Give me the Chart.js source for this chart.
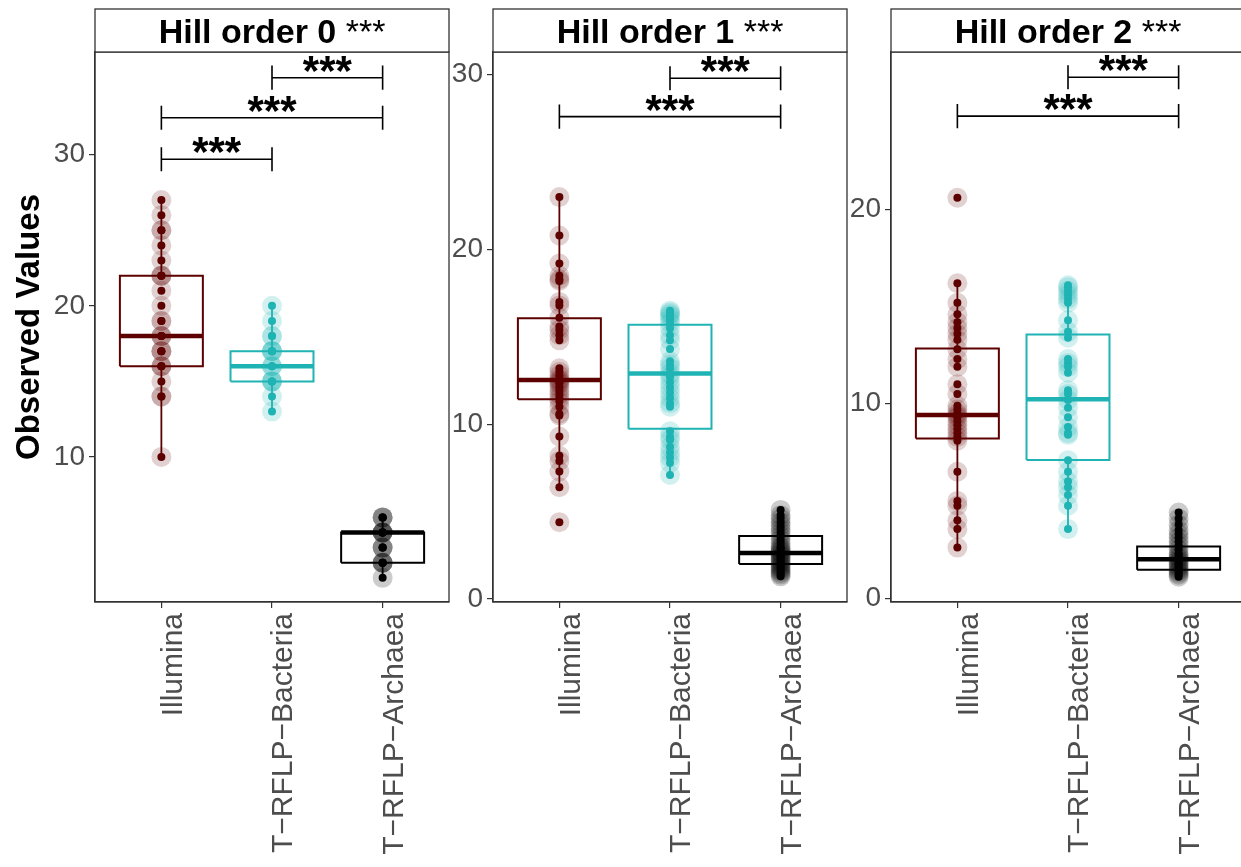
<!DOCTYPE html>
<html>
<head>
<meta charset="utf-8">
<script src="https://cdn.jsdelivr.net/npm/chart.js@4.4.1/dist/chart.umd.min.js"></script>
<style>
html, body { margin: 0; padding: 0; background: #fff; overflow: hidden; width: 1241px; height: 867px; }
.panel { position: absolute; top: 0; height: 867px; overflow: hidden; }
</style>
</head>
<body>
<div class="panel" style="left:0px;width:459px"><canvas id="c0" width="459" height="867"></canvas></div>
<div class="panel" style="left:449px;width:408px"><canvas id="c1" width="408" height="867"></canvas></div>
<div class="panel" style="left:847px;width:394px"><canvas id="c2" width="408" height="867"></canvas></div>
<script>
const groups = ["Illumina", "T\u2212RFLP\u2212Bacteria", "T\u2212RFLP\u2212Archaea"];
const groupColors = ["#5c0000", "#1fb3b3", "#000000"];
const haloColors = ["rgba(92,0,0,0.18)", "rgba(31,179,179,0.2)", "rgba(0,0,0,0.2)"];
const panelTitles = ["Hill order 0", "Hill order 1", "Hill order 2"];
const panelStars = "***";
const yTitle = "Observed Values";

// observed values, Hill order 0
const hill0Illumina = [27, 26, 25, 25, 24, 23, 22, 22, 22, 21, 20, 19, 19, 18, 18, 18, 17, 17, 17, 16, 16, 16, 15, 14, 14, 10];
const hill0Bacteria = [20, 19, 18, 18, 17, 17, 17, 17, 16, 16, 16, 15, 15, 15, 15, 14, 13];
const hill0Archaea = [6, 6, 6, 5, 5, 5, 5, 5, 4, 4, 4, 3, 3, 3, 3, 2];

// observed values, Hill order 1
const hill1Illumina = [23.0, 20.8, 19.2, 18.5, 18.3, 18.2, 17.0, 16.8, 16.1, 15.6, 15.4, 15.1, 14.8, 13.2, 13.0, 12.8, 12.6, 12.5, 12.4, 12.3, 12.1, 11.9, 11.7, 11.5, 11.3, 11.0, 10.6, 10.5, 9.3, 8.2, 7.9, 7.3, 6.4, 4.4];
const hill1Bacteria = [16.5, 16.4, 16.3, 16.2, 16.0, 15.8, 15.5, 15.1, 14.8, 14.3, 13.6, 13.4, 13.2, 12.9, 12.7, 12.4, 12.1, 11.8, 11.5, 11.2, 11.0, 9.6, 9.3, 9.1, 8.7, 8.4, 8.1, 7.8, 7.1];
const hill1Archaea = [5.1, 4.8, 4.6, 4.4, 4.2, 4.0, 3.8, 3.6, 3.4, 3.2, 3.0, 2.9, 2.8, 2.7, 2.6, 2.5, 2.4, 2.3, 2.2, 2.1, 2.0, 1.9, 1.8, 1.7, 1.6, 1.5, 1.4, 1.3];

// observed values, Hill order 2
const hill2Illumina = [20.6, 16.2, 15.2, 14.6, 14.2, 13.9, 13.6, 13.3, 12.8, 12.3, 11.9, 11.0, 10.5, 9.9, 9.7, 9.5, 9.4, 9.3, 9.1, 8.9, 8.7, 8.5, 8.3, 8.1, 6.5, 5.0, 4.75, 4.0, 3.55, 2.6];
const hill2Bacteria = [16.1, 16.0, 15.8, 15.6, 15.4, 15.2, 14.3, 13.7, 13.4, 12.3, 12.1, 11.9, 11.6, 10.7, 10.5, 10.2, 9.8, 9.3, 8.8, 8.5, 8.4, 7.1, 6.5, 6.0, 5.7, 5.3, 4.75, 3.55];
const hill2Archaea = [4.4, 4.1, 3.8, 3.5, 3.3, 3.1, 2.9, 2.7, 2.5, 2.3, 2.2, 2.1, 2.0, 1.9, 1.8, 1.7, 1.6, 1.5, 1.4, 1.3, 1.2, 1.1];

// box stats: [lower whisker, Q1, median, Q3, upper whisker]
const hill0Boxes = [[10, 16, 18, 22, 27], [13, 15, 16, 17, 20], [2, 3, 5, 5, 6]];
const hill1Boxes = [[6.4, 11.43, 12.53, 16.06, 23.0], [7.1, 9.75, 12.9, 15.7, 16.5], [1.3, 2.0, 2.63, 3.6, 5.1]];
const hill2Boxes = [[2.6, 8.21, 9.42, 12.84, 16.2], [3.55, 7.11, 10.23, 13.57, 16.1], [1.1, 1.46, 2.0, 2.66, 4.4]];

// significance brackets: [group from, group to, y]
const hill0Brackets = [[1, 2, 29.7], [1, 3, 32.45], [2, 3, 35.1]];
const hill1Brackets = [[1, 3, 27.6], [2, 3, 29.8]];
const hill2Brackets = [[1, 3, 24.8], [2, 3, 26.8]];
const bracketLabel = "***";
const bracketTips = [0.8, 0.69, 0.62];

const yRanges = [[0.4, 36.8], [-0.17, 31.3], [-0.2, 28.1]];
const yTickValues = [[10, 20, 30], [0, 10, 20, 30], [0, 10, 20]];

const panels = [
    { id: "c0", values: [hill0Illumina, hill0Bacteria, hill0Archaea], boxes: hill0Boxes, brackets: hill0Brackets, yWidth: 95, showTitle: true },
    { id: "c1", values: [hill1Illumina, hill1Bacteria, hill1Archaea], boxes: hill1Boxes, brackets: hill1Brackets, yWidth: 44, showTitle: false },
    { id: "c2", values: [hill2Illumina, hill2Bacteria, hill2Archaea], boxes: hill2Boxes, brackets: hill2Brackets, yWidth: 44, showTitle: false },
];

const HALF = 0.375;
const frameColor = "#333333";
const tickTextColor = "#4d4d4d";

function buildDatasets(values, boxes, brackets, tip) {
    const sets = [];
    values.forEach((vals, g) => {
        const x = g + 1;
        const pts = vals.map((v) => ({ x: x, y: v }));
        sets.push({ data: pts, pointRadius: 10, pointBackgroundColor: haloColors[g], pointBorderWidth: 0, showLine: false, order: 3 });
        sets.push({ data: pts, pointRadius: 4, pointBackgroundColor: groupColors[g], pointBorderWidth: 0, showLine: false, order: 0 });
        const [lo, q1, med, q3, hi] = boxes[g];
        const a = x - HALF, b = x + HALF;
        const lineBase = { showLine: true, pointRadius: 0, borderColor: groupColors[g], spanGaps: false, borderJoinStyle: "miter" };
        sets.push({ ...lineBase, data: [{ x: a, y: q1 }, { x: b, y: q1 }, { x: b, y: q3 }, { x: a, y: q3 }, { x: a, y: q1 }], borderWidth: 2, order: 1 });
        sets.push({ ...lineBase, data: [{ x: a, y: med }, { x: b, y: med }], borderWidth: 4.5, order: 1 });
        sets.push({ ...lineBase, data: [{ x: x, y: lo }, { x: x, y: q1 }, { x: x, y: null }, { x: x, y: q3 }, { x: x, y: hi }], borderWidth: 1.8, order: 2 });
    });
    brackets.forEach(([x1, x2, y]) => {
        sets.push({
            showLine: true, pointRadius: 0, borderColor: "#000", borderWidth: 1.6, spanGaps: false, order: 0,
            data: [
                { x: x1, y: y - tip }, { x: x1, y: y + tip }, { x: x1, y: null },
                { x: x1, y: y }, { x: x2, y: y }, { x: x2, y: null },
                { x: x2, y: y - tip }, { x: x2, y: y + tip },
            ],
        });
    });
    return sets;
}

function framePlugin(title, brackets) {
    return {
        id: "frame",
        afterDatasetsDraw(chart) {
            const { ctx, chartArea, scales } = chart;
            ctx.save();
            // stars over brackets
            ctx.fillStyle = "#000";
            ctx.font = "bold 42px 'Liberation Sans', Arial, sans-serif";
            ctx.textAlign = "center";
            ctx.textBaseline = "alphabetic";
            brackets.forEach(([x1, x2, y]) => {
                const px = scales.x.getPixelForValue((x1 + x2) / 2);
                const py = scales.y.getPixelForValue(y);
                ctx.fillText(bracketLabel, px, py + 7);
            });
            // panel border
            ctx.strokeStyle = frameColor;
            ctx.lineWidth = 1.3;
            ctx.strokeRect(chartArea.left, chartArea.top, chartArea.right - chartArea.left, chartArea.bottom - chartArea.top);
            // strip
            const top = chartArea.top - 43;
            ctx.fillStyle = "#fff";
            ctx.fillRect(chartArea.left, top, chartArea.right - chartArea.left, 43);
            ctx.strokeRect(chartArea.left, top, chartArea.right - chartArea.left, 43);
            const boldFont = "bold 34px 'Liberation Sans', Arial, sans-serif";
            const plainFont = "34px 'Liberation Sans', Arial, sans-serif";
            ctx.font = boldFont;
            const w1 = ctx.measureText(title + " ").width;
            ctx.font = plainFont;
            const w2 = ctx.measureText(panelStars).width;
            const cx = (chartArea.left + chartArea.right) / 2;
            const start = cx - (w1 + w2) / 2;
            ctx.fillStyle = "#000";
            ctx.textAlign = "left";
            ctx.font = boldFont;
            ctx.fillText(title + " ", start, top + 34);
            ctx.font = plainFont;
            ctx.fillText(panelStars, start + w1, top + 34);
            ctx.restore();
        },
    };
}

panels.forEach((p, i) => {
    const ctx = document.getElementById(p.id).getContext("2d");
    new Chart(ctx, {
        type: "scatter",
        data: { datasets: buildDatasets(p.values, p.boxes, p.brackets, bracketTips[i]) },
        options: {
            responsive: false,
            animation: false,
            events: [],
            layout: { padding: { top: 52, right: 0, left: 0, bottom: 0 } },
            plugins: { legend: { display: false }, tooltip: { enabled: false } },
            scales: {
                x: {
                    type: "linear",
                    min: 0.4,
                    max: 3.6,
                    afterBuildTicks: (scale) => {
                        scale.ticks = [1, 2, 3].map((v) => ({ value: v }));
                    },
                    afterFit: (scale) => {
                        scale.height = 265;
                    },
                    grid: { display: true, drawOnChartArea: false, drawTicks: true, tickLength: 6, color: frameColor, lineWidth: 1.2 },
                    border: { display: true, color: frameColor, width: 1.3 },
                    ticks: {
                        autoSkip: false,
                        minRotation: 90,
                        maxRotation: 90,
                        padding: 5,
                        labelOffset: 12,
                        color: tickTextColor,
                        font: { family: "'Liberation Sans', Arial, sans-serif", size: 30 },
                        callback: (v) => groups[v - 1],
                    },
                },
                y: {
                    type: "linear",
                    min: yRanges[i][0],
                    max: yRanges[i][1],
                    afterBuildTicks: (scale) => {
                        scale.ticks = yTickValues[i].map((v) => ({ value: v }));
                    },
                    afterFit: (scale) => {
                        scale.width = p.yWidth;
                    },
                    grid: { display: true, drawOnChartArea: false, drawTicks: true, tickLength: 6, color: frameColor, lineWidth: 1.2 },
                    border: { display: true, color: frameColor, width: 1.3 },
                    ticks: {
                        padding: 4,
                        color: tickTextColor,
                        font: { family: "'Liberation Sans', Arial, sans-serif", size: 28 },
                    },
                    title: {
                        display: p.showTitle,
                        text: yTitle,
                        color: "#000",
                        padding: { top: 10, bottom: 0 },
                        font: { family: "'Liberation Sans', Arial, sans-serif", size: 33, weight: "bold" },
                    },
                },
            },
        },
        plugins: [framePlugin(panelTitles[i], p.brackets)],
    });
});
</script>
</body>
</html>
